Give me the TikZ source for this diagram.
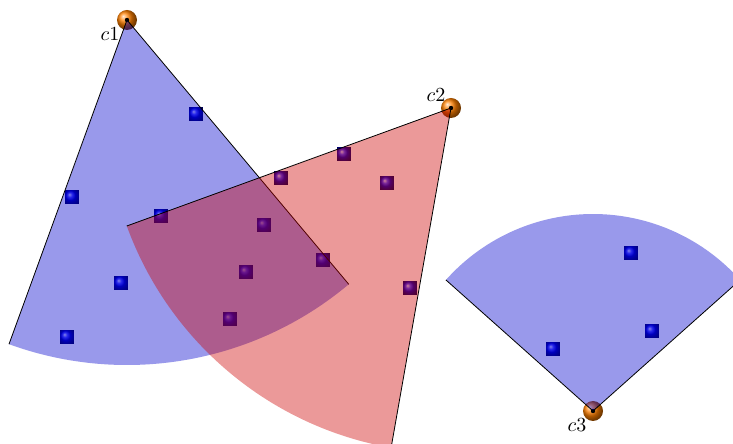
\documentclass[tikz,border=0pt]{standalone}
\begin{document}
\begin{tikzpicture}[x=0.5pt,y=0.5pt,
  sectorblue/.style={fill={rgb,255:red,0;green,0;blue,204},fill opacity=0.4},
  sectorred/.style={fill={rgb,255:red,204;green,0;blue,0},fill opacity=0.4},
  edge/.style={draw=black,line width=0.4pt},
  lbl/.style={inner sep=0pt}]
\useasboundingbox (0,0) rectangle (733,444);
\clip (0,0) rectangle (733,444);
\coordinate (c1) at (127,424);
\coordinate (c2) at (451,336);
\coordinate (c3) at (593,33);
% centres (balls)
\foreach \c in {c1,c2,c3}{
  \shade[ball color=orange] (\c) circle (5pt);
  \fill[black] (\c) circle (1.1pt);
}
% points (squares)
\foreach \p in {(196,330),(72,247),(121,161),(67,107),
  (161,228),(281,266),(344,290),(387,261),(264,219),(246,172),(323,184),(230,125),(410,156),
  (631,191),(652,113),(553,95)}{
  \shade[ball color=blue] \p ++(-3.4pt,-3.4pt) rectangle ++(6.8pt,6.8pt);
}
% sector 1
\path[sectorblue] (c1) -- ++(250:172.5pt) arc[start angle=250,end angle=310,radius=172.5pt] -- cycle;
\draw[edge] (c1) -- ++(250:172.5pt);
\draw[edge] (c1) -- ++(310:172.5pt);
% sector 2
\path[sectorred] (c2) -- ++(200:172.5pt) arc[start angle=200,end angle=260,radius=172.5pt] -- cycle;
\draw[edge] (c2) -- ++(200:172.5pt);
\draw[edge] (c2) -- ++(260:172.5pt);
% sector 3
\path[sectorblue] (c3) -- ++(41.7:98.5pt) arc[start angle=41.7,end angle=138.3,radius=98.5pt] -- cycle;
\draw[edge] (c3) -- ++(41.7:98.5pt);
\draw[edge] (c3) -- ++(138.3:98.5pt);
% labels
\node[lbl] (l1) at (110,410) {$c1$};
\node[lbl] (l2) at (436,349) {$c2$};
\node[lbl] (l3) at (577,19) {$c3$};
\end{tikzpicture}
\end{document}
